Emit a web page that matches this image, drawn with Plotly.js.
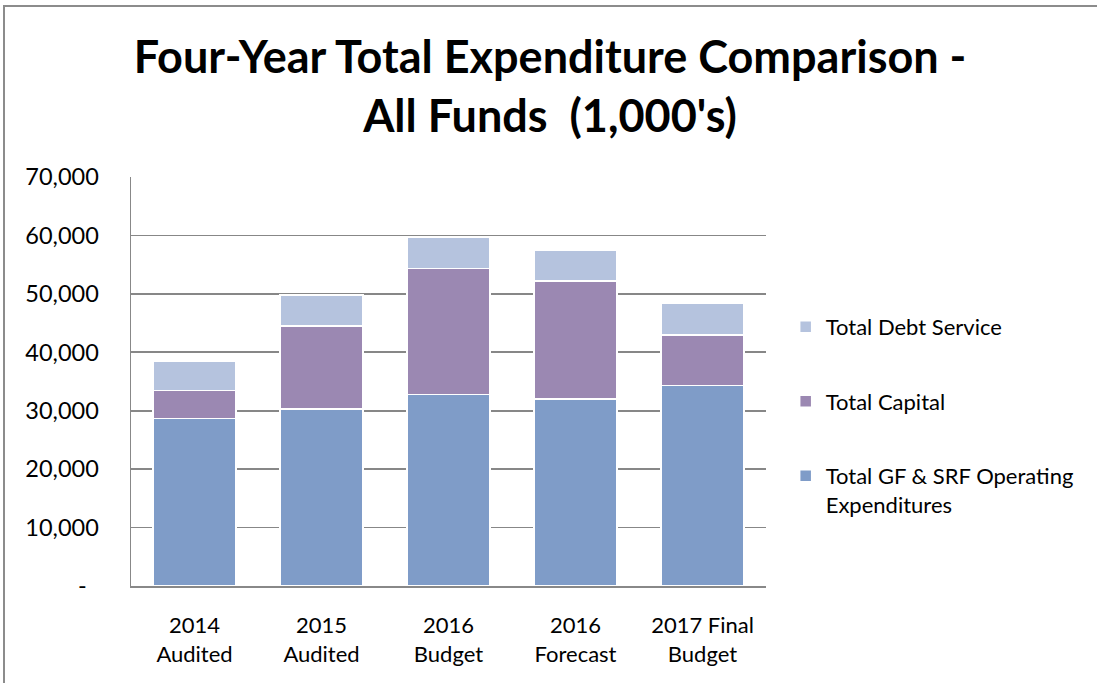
<!DOCTYPE html>
<html>
<head>
<meta charset="utf-8">
<script src="https://cdn.plot.ly/plotly-3.0.1.min.js"></script>
<style>
  html, body { margin: 0; padding: 0; background: #fff; }
  #frame { position: absolute; left: 3px; top: 5px; width: 1094px; height: 678px;
           border-left: 2px solid #8c8c8c; border-top: 2px solid #8c8c8c; box-sizing: border-box; pointer-events: none; }
  #chart { position: absolute; left: 0; top: 0; width: 1097px; height: 683px; }
</style>
</head>
<body>
<div id="chart"></div>
<div id="frame"></div>
<script>
const categories = ["2014<br>Audited", "2015<br>Audited", "2016<br>Budget", "2016<br>Forecast", "2017 Final<br>Budget"];
const operating = [28700, 30300, 32800, 32000, 34300];
const capital = [4800, 14200, 21500, 20200, 8700];
const debtService = [5000, 5300, 5400, 5200, 5450];
const seriesNames = ["Total GF & SRF Operating<br>Expenditures", "Total Capital", "Total Debt Service"];
const yTickVals = [0, 10000, 20000, 30000, 40000, 50000, 60000, 70000];
const yTickText = ["-\u00a0\u00a0", "10,000", "20,000", "30,000", "40,000", "50,000", "60,000", "70,000"];

const colors = ["#7F9CC8", "#9B88B2", "#B5C3DE"];
const values = [operating, capital, debtService];
const FONT = "Lato, 'Open Sans', sans-serif";

const traces = values.map((v, i) => ({
  type: "bar",
  x: categories,
  y: v,
  name: seriesNames[i],
  legendgroup: "g" + i,
  legendrank: 3 - i,
  marker: { color: colors[i], line: { color: "#ffffff", width: 1.5 } },
  hoverinfo: "y+name"
}));

const layout = {
  width: 1097,
  height: 683,
  barmode: "stack",
  bargap: 0.35,
  paper_bgcolor: "#ffffff",
  plot_bgcolor: "#ffffff",
  margin: { l: 131, r: 331, t: 177, b: 97 },
  font: { family: FONT, color: "#000000" },
  title: {
    text: "<b>Four-Year Total Expenditure Comparison -<br>All Funds  (1,000's)</b>",
    font: { family: FONT, size: 45, color: "#000000" },
    x: 0.5014, xref: "container", xanchor: "center",
    y: 0.893, yref: "container", yanchor: "middle"
  },
  xaxis: {
    type: "category",
    showline: true, linecolor: "#888888", linewidth: 1.5,
    ticks: "", showgrid: false,
    tickfont: { family: FONT, size: 22, color: "#000000" },
    ticklabelstandoff: 19,
    fixedrange: true
  },
  yaxis: {
    range: [0, 70000],
    tickvals: yTickVals,
    ticktext: yTickText,
    showline: true, linecolor: "#888888", linewidth: 1.5,
    showgrid: true, gridcolor: "#878787", gridwidth: 1.6,
    zeroline: false,
    ticks: "",
    ticklabelstandoff: 26,
    tickfont: { family: FONT, size: 23.5, color: "#000000" },
    fixedrange: true
  },
  showlegend: true,
  legend: {
    x: 1.031, xref: "paper", xanchor: "left",
    y: 0.685, yanchor: "top",
    traceorder: "grouped",
    tracegroupgap: 43,
    valign: "top",
    font: { family: FONT, size: 22, color: "#000000" },
    bgcolor: "rgba(0,0,0,0)",
    itemwidth: 30
  }
};

Plotly.newPlot("chart", traces, layout, { displayModeBar: false, staticPlot: true });
</script>
</body>
</html>
